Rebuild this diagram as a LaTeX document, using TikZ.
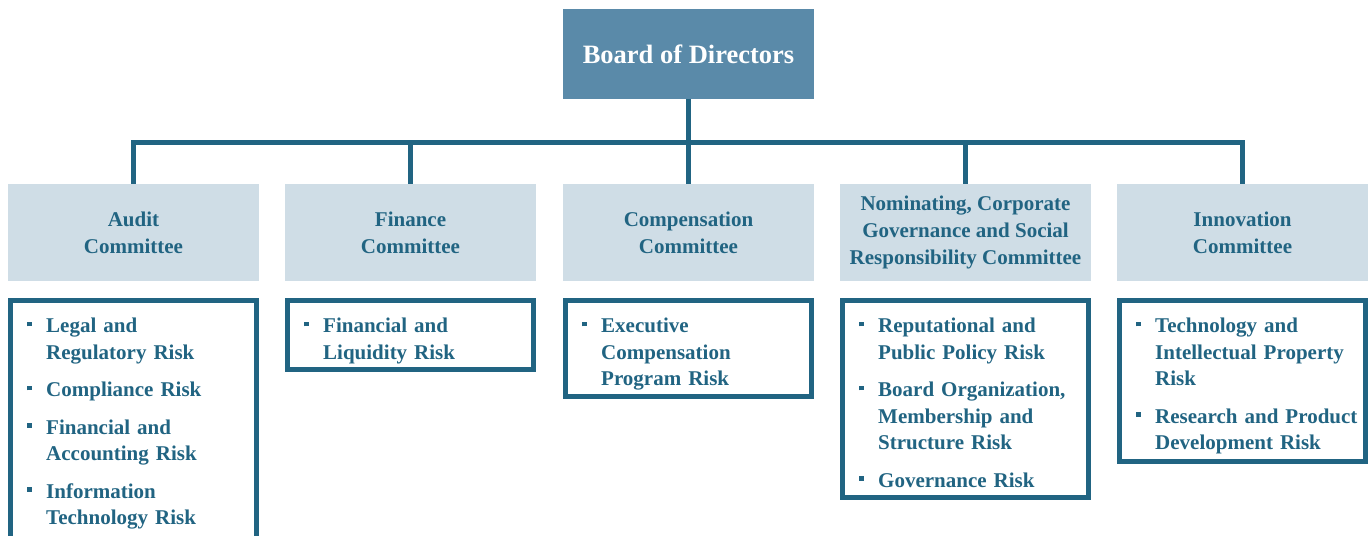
\documentclass[tikz,border=0pt]{standalone}
\usepackage{fontspec}
\setmainfont{Liberation Serif}
\usetikzlibrary{positioning}

\definecolor{boardblue}{HTML}{5A8AA9}
\definecolor{riskblue}{HTML}{216482}
\definecolor{cmteblue}{HTML}{CFDDE6}

% one bulleted entry of a risk list
\newcommand{\riskitem}[1]{\hangindent=19pt\hangafter=1\noindent
  \makebox[19pt][l]{\raisebox{6.5pt}{\rule{4.5pt}{4.5pt}}}#1\par}

\tikzset{
  board/.style={fill=boardblue, text=white, inner sep=0,
    font=\fontsize{26.5}{30}\selectfont\bfseries,
    minimum width=251, minimum height=90},
  cmte/.style={fill=cmteblue, text=riskblue, inner sep=0, align=center,
    font=\fontsize{21}{27}\selectfont\bfseries,
    execute at begin node=\rule{0pt}{20pt},
    minimum width=251, minimum height=97},
  riskbox/.style={draw=riskblue, line width=5, fill=white, inner sep=0,
    minimum width=246, below=17pt of #1},
  risktext/.style={text=riskblue, inner sep=0, text width=230, anchor=north west,
    font=\fontsize{21}{26.5}\selectfont\bfseries,
    execute at begin node=\setlength{\parskip}{11pt}},
  link/.style={draw=riskblue, line width=5}
}

\begin{document}
\begin{tikzpicture}[x=1pt,y=-1pt]
\useasboundingbox (0,0) rectangle (1372,535);

\node[board] (board) at (688.5,54) {Board of Directors};

% committees
\node[cmte] (audit) at (133.5,232.5) {Audit\\Committee};
\node[cmte] (fin)   at (410.5,232.5) {Finance\\Committee};
\node[cmte] (comp)  at (688.5,232.5) {Compensation\\Committee};
\node[cmte] (nom)   at (965.5,232.5) {Nominating, Corporate\\Governance and Social\\Responsibility Committee};
\node[cmte] (innov) at (1242.5,232.5) {Innovation\\Committee};

% connectors
\coordinate (bus) at (688.5,142.5);
\draw[link] (board) -- (comp);
\draw[link] (audit.north) |- (bus) -| (innov.north);
\draw[link] (fin.north) -- (fin.north |- bus);
\draw[link] (nom.north) -- (nom.north |- bus);

% risk boxes
\node[riskbox=audit, minimum height=260] (auditrisk) {};
\node[riskbox=fin,   minimum height=69]  (finrisk) {};
\node[riskbox=comp,  minimum height=96]  (comprisk) {};
\node[riskbox=nom,   minimum height=197] (nomrisk) {};
\node[riskbox=innov, minimum height=161] (innovrisk) {};

\node[risktext] at ([xshift=19pt,yshift=-20pt]auditrisk.north west) {%
  \riskitem{Legal and\newline Regulatory Risk}
  \riskitem{Compliance Risk}
  \riskitem{Financial and\newline Accounting Risk}
  \riskitem{Information\newline Technology Risk}};
\node[risktext] at ([xshift=19pt,yshift=-20pt]finrisk.north west) {%
  \riskitem{Financial and\newline Liquidity Risk}};
\node[risktext] at ([xshift=19pt,yshift=-20pt]comprisk.north west) {%
  \riskitem{Executive\newline Compensation\newline Program Risk}};
\node[risktext] at ([xshift=19pt,yshift=-20pt]nomrisk.north west) {%
  \riskitem{Reputational and\newline Public Policy Risk}
  \riskitem{Board Organization,\newline Membership and\newline Structure Risk}
  \riskitem{Governance Risk}};
\node[risktext] at ([xshift=19pt,yshift=-20pt]innovrisk.north west) {%
  \riskitem{Technology and\newline Intellectual Property\newline Risk}
  \riskitem{Research and Product\newline Development Risk}};
\end{tikzpicture}
\end{document}
